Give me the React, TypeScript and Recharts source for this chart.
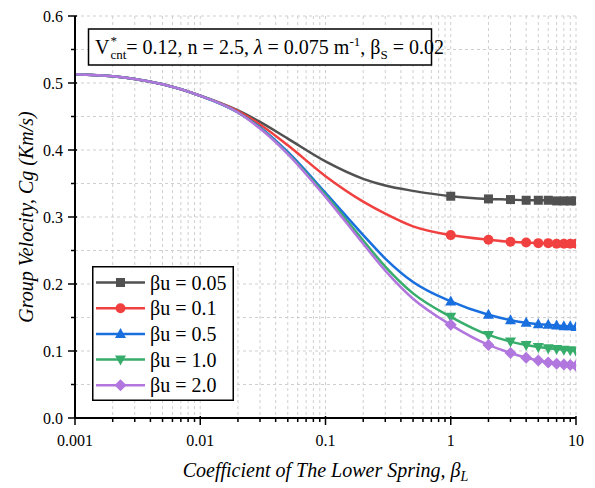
import React from 'react';
import { LineChart, Line, XAxis, YAxis, CartesianGrid, Legend } from 'recharts';

// ---- data ----
const betaL = [0.001, 0.002, 0.003, 0.005, 0.01, 0.02, 0.03, 0.05, 0.1, 0.2, 0.3, 0.5, 1, 2, 3, 4, 5, 6, 7, 8, 9, 10];
const cgBu005 = [0.513, 0.510, 0.506, 0.498, 0.481, 0.459, 0.442, 0.417, 0.383, 0.357, 0.347, 0.339, 0.331, 0.327, 0.326, 0.325, 0.325, 0.325, 0.324, 0.324, 0.324, 0.324];
const cgBu01 = [0.513, 0.510, 0.506, 0.498, 0.481, 0.458, 0.438, 0.407, 0.361, 0.323, 0.305, 0.286, 0.273, 0.266, 0.263, 0.262, 0.261, 0.261, 0.260, 0.260, 0.260, 0.260];
const cgBu05 = [0.513, 0.510, 0.506, 0.498, 0.481, 0.456, 0.434, 0.397, 0.336, 0.273, 0.238, 0.203, 0.174, 0.154, 0.146, 0.142, 0.140, 0.139, 0.138, 0.137, 0.137, 0.136];
const cgBu10 = [0.513, 0.510, 0.506, 0.498, 0.481, 0.456, 0.433, 0.395, 0.333, 0.265, 0.226, 0.186, 0.151, 0.124, 0.114, 0.109, 0.106, 0.104, 0.103, 0.102, 0.101, 0.100];
const cgBu20 = [0.513, 0.510, 0.506, 0.498, 0.481, 0.456, 0.432, 0.394, 0.330, 0.260, 0.220, 0.178, 0.139, 0.109, 0.097, 0.090, 0.086, 0.083, 0.081, 0.080, 0.079, 0.078];

const seriesNames = ['βu = 0.05', 'βu = 0.1', 'βu = 0.5', 'βu = 1.0', 'βu = 2.0'];
const seriesColors = ['#515151', '#F14040', '#1A6FDF', '#37AD6B', '#B177DE'];
const seriesShapes = ['square', 'circle', 'triangleUp', 'triangleDown', 'diamond'];
const seriesValues = [cgBu005, cgBu01, cgBu05, cgBu10, cgBu20];
const markerX = [1, 2, 3, 4, 5, 6, 7, 8, 9, 10];

const xTicksAll = [
  0.001, 0.002, 0.003, 0.004, 0.005, 0.006, 0.007, 0.008, 0.009,
  0.01, 0.02, 0.03, 0.04, 0.05, 0.06, 0.07, 0.08, 0.09,
  0.1, 0.2, 0.3, 0.4, 0.5, 0.6, 0.7, 0.8, 0.9,
  1, 2, 3, 4, 5, 6, 7, 8, 9, 10,
];
const xMajorTicks = [0.001, 0.01, 0.1, 1, 10];
const xMajorLabels = ['0.001', '0.01', '0.1', '1', '10'];
const yTicksAll = [0, 0.05, 0.1, 0.15, 0.2, 0.25, 0.3, 0.35, 0.4, 0.45, 0.5, 0.55, 0.6];
const yMajorTicks = [0, 0.1, 0.2, 0.3, 0.4, 0.5, 0.6];
const yMajorLabels = ['0.0', '0.1', '0.2', '0.3', '0.4', '0.5', '0.6'];

const rows = betaL.map((x, i) => {
  const r: any = { x };
  seriesValues.forEach((vals, k) => { r['s' + k] = vals[i]; });
  return r;
});

const FONT = '"Liberation Serif", "Times New Roman", Times, serif';
const serif = { fontFamily: FONT };

const near = (a: number, b: number) => Math.abs(a - b) < 1e-9 * Math.max(1, Math.abs(b));
const majorIndex = (v: number, arr: number[]) => arr.findIndex((m) => near(v, m));

function Marker({ shape, cx, cy, color }: any) {
  switch (shape) {
    case 'square':
      return <rect x={cx - 4.5} y={cy - 4.5} width={9} height={9} fill={color} />;
    case 'circle':
      return <circle cx={cx} cy={cy} r={5} fill={color} />;
    case 'triangleUp':
      return <polygon points={`${cx},${cy - 6} ${cx - 5.5},${cy + 4} ${cx + 5.5},${cy + 4}`} fill={color} />;
    case 'triangleDown':
      return <polygon points={`${cx},${cy + 6} ${cx - 5.5},${cy - 4} ${cx + 5.5},${cy - 4}`} fill={color} />;
    default:
      return <polygon points={`${cx},${cy - 6} ${cx + 6},${cy} ${cx},${cy + 6} ${cx - 6},${cy}`} fill={color} />;
  }
}

const makeDot = (shape: string, color: string) => (props: any) => {
  const { cx, cy, payload, index } = props;
  if (cx == null || cy == null || !markerX.some((m) => near(payload.x, m))) {
    return <g key={`d-${shape}-${index}`} />;
  }
  return (
    <g key={`d-${shape}-${index}`}>
      <Marker shape={shape} cx={cx} cy={cy} color={color} />
    </g>
  );
};

const BottomTick = (props: any) => {
  const { x, y, payload } = props;
  const mi = majorIndex(payload.value, xMajorTicks);
  const major = mi >= 0;
  return (
    <g>
      <line x1={x} x2={x} y1={y - (major ? 2 : 0)} y2={y + (major ? 7 : 4)} stroke="#000" strokeWidth={1.5} />
      {major && (
        <text x={x} y={y + 28} textAnchor="middle" fontFamily={FONT} style={serif} fontSize={16} fill="#000">
          {xMajorLabels[mi]}
        </text>
      )}
    </g>
  );
};

const TopTick = (props: any) => {
  const { x, y, payload } = props;
  const major = majorIndex(payload.value, xMajorTicks) >= 0;
  return <line x1={x} x2={x} y1={y} y2={y + (major ? 7 : 4)} stroke="#000" strokeWidth={1.5} />;
};

const LeftTick = (props: any) => {
  const { x, y, payload } = props;
  const mi = majorIndex(payload.value, yMajorTicks);
  const major = mi >= 0;
  return (
    <g>
      <line x1={x - (major ? 7 : 4)} x2={x + (major ? 2 : 0)} y1={y} y2={y} stroke="#000" strokeWidth={1.5} />
      {major && (
        <text x={x - 12} y={y} dy="0.35em" textAnchor="end" fontFamily={FONT} style={serif} fontSize={16} fill="#000">
          {yMajorLabels[mi]}
        </text>
      )}
    </g>
  );
};

const RightTick = (props: any) => {
  const { x, y, payload } = props;
  const major = majorIndex(payload.value, yMajorTicks) >= 0;
  return <line x1={x - (major ? 7 : 4)} x2={x} y1={y} y2={y} stroke="#000" strokeWidth={1.5} />;
};

const XTitle = () => (
  <text x={325.5} y={477} textAnchor="middle" fontFamily={FONT} style={serif} fontSize={20} fontStyle="italic" fill="#000">
    Coefficient of The Lower Spring, β<tspan dy={4} fontSize={14}>L</tspan>
  </text>
);

const YTitle = () => (
  <text x={33} y={217} transform="rotate(-90 33 217)" textAnchor="middle" fontFamily={FONT} style={serif} fontSize={20} fontStyle="italic" fill="#000">
    Group Velocity, Cg (Km/s)
  </text>
);

const LegendBox = () => {
  const w = 142;
  const h = 135;
  return (
    <svg width={w} height={h} style={{ display: 'block' }}>
      <rect x={0.75} y={0.75} width={w - 1.5} height={h - 1.5} fill="#fff" stroke="#000" strokeWidth={1.5} />
      {seriesNames.map((name, i) => {
        const cy = 16.5 + i * 25.7;
        return (
          <g key={name}>
            <line x1={4} x2={53} y1={cy} y2={cy} stroke={seriesColors[i]} strokeWidth={2.5} />
            <Marker shape={seriesShapes[i]} cx={28.5} cy={cy} color={seriesColors[i]} />
            <text x={58} y={cy + 7} fontFamily={FONT} style={serif} fontSize={20} fill="#000">{name}</text>
          </g>
        );
      })}
    </svg>
  );
};

const Annotation = () => (
  <svg width={595} height={488} style={{ position: 'absolute', left: 0, top: 0, pointerEvents: 'none' }}>
    <rect x={88.5} y={29} width={343} height={36} fill="#fff" stroke="#000" strokeWidth={1.5} />
    <text x={95} y={54} fontFamily={FONT} style={serif} fontSize={20} fill="#000">
      V<tspan dx={1} dy={-9} fontSize={13}>*</tspan>
      <tspan dx={-6.5} dy={14} fontSize={13}>cnt</tspan>
      <tspan dy={-5}>= 0.12, n = 2.5, </tspan>
      <tspan fontStyle="italic">λ</tspan>
      <tspan> = 0.075 m</tspan>
      <tspan dy={-8} fontSize={13}>-1</tspan>
      <tspan dy={8}>, β</tspan>
      <tspan dy={5} fontSize={13}>S</tspan>
      <tspan dy={-5}> = 0.02</tspan>
    </text>
  </svg>
);

export default function App() {
  return (
    <div style={{ position: 'absolute', left: 0, top: 0, width: 595, height: 488, background: '#fff', fontFamily: FONT }}>
      <LineChart width={595} height={488} data={rows} margin={{ top: 16, right: 19, left: 0, bottom: 0 }} style={serif}>
        <CartesianGrid stroke="#cfcfcf" strokeDasharray="3 3" strokeWidth={1} />
        <XAxis
          dataKey="x"
          type="number"
          scale="log"
          domain={[0.001, 10]}
          allowDataOverflow
          ticks={xTicksAll}
          interval={0}
          tick={<BottomTick />}
          tickLine={false}
          tickSize={0}
          tickMargin={0}
          height={70}
          axisLine={{ stroke: '#000', strokeWidth: 2 }}
          label={{ content: () => <XTitle /> }}
        />
        <XAxis
          xAxisId="top"
          orientation="top"
          dataKey="x"
          type="number"
          scale="log"
          domain={[0.001, 10]}
          allowDataOverflow
          ticks={xTicksAll}
          interval={0}
          tick={<TopTick />}
          tickLine={false}
          tickSize={0}
          tickMargin={0}
          height={0}
          axisLine={{ stroke: '#000', strokeWidth: 2 }}
        />
        <YAxis
          type="number"
          domain={[0, 0.6]}
          allowDataOverflow
          ticks={yTicksAll}
          interval={0}
          tick={<LeftTick />}
          tickLine={false}
          tickSize={0}
          tickMargin={0}
          width={75}
          axisLine={{ stroke: '#000', strokeWidth: 2 }}
          label={{ content: () => <YTitle /> }}
        />
        <YAxis
          yAxisId="right"
          orientation="right"
          type="number"
          domain={[0, 0.6]}
          allowDataOverflow
          ticks={yTicksAll}
          interval={0}
          tick={<RightTick />}
          tickLine={false}
          tickSize={0}
          tickMargin={0}
          width={0}
          axisLine={{ stroke: '#000', strokeWidth: 2 }}
        />
        {seriesNames.map((name, k) => (
          <Line
            key={name}
            name={name}
            dataKey={'s' + k}
            type="monotone"
            stroke={seriesColors[k]}
            strokeWidth={2.5}
            dot={makeDot(seriesShapes[k], seriesColors[k])}
            activeDot={false}
            isAnimationActive={false}
          />
        ))}
        <Legend
          layout="vertical"
          align="center"
          verticalAlign="middle"
          content={() => <LegendBox />}
          wrapperStyle={{ position: 'absolute', left: 92, top: 266, width: 142, height: 135 }}
        />
      </LineChart>
      <Annotation />
    </div>
  );
}
